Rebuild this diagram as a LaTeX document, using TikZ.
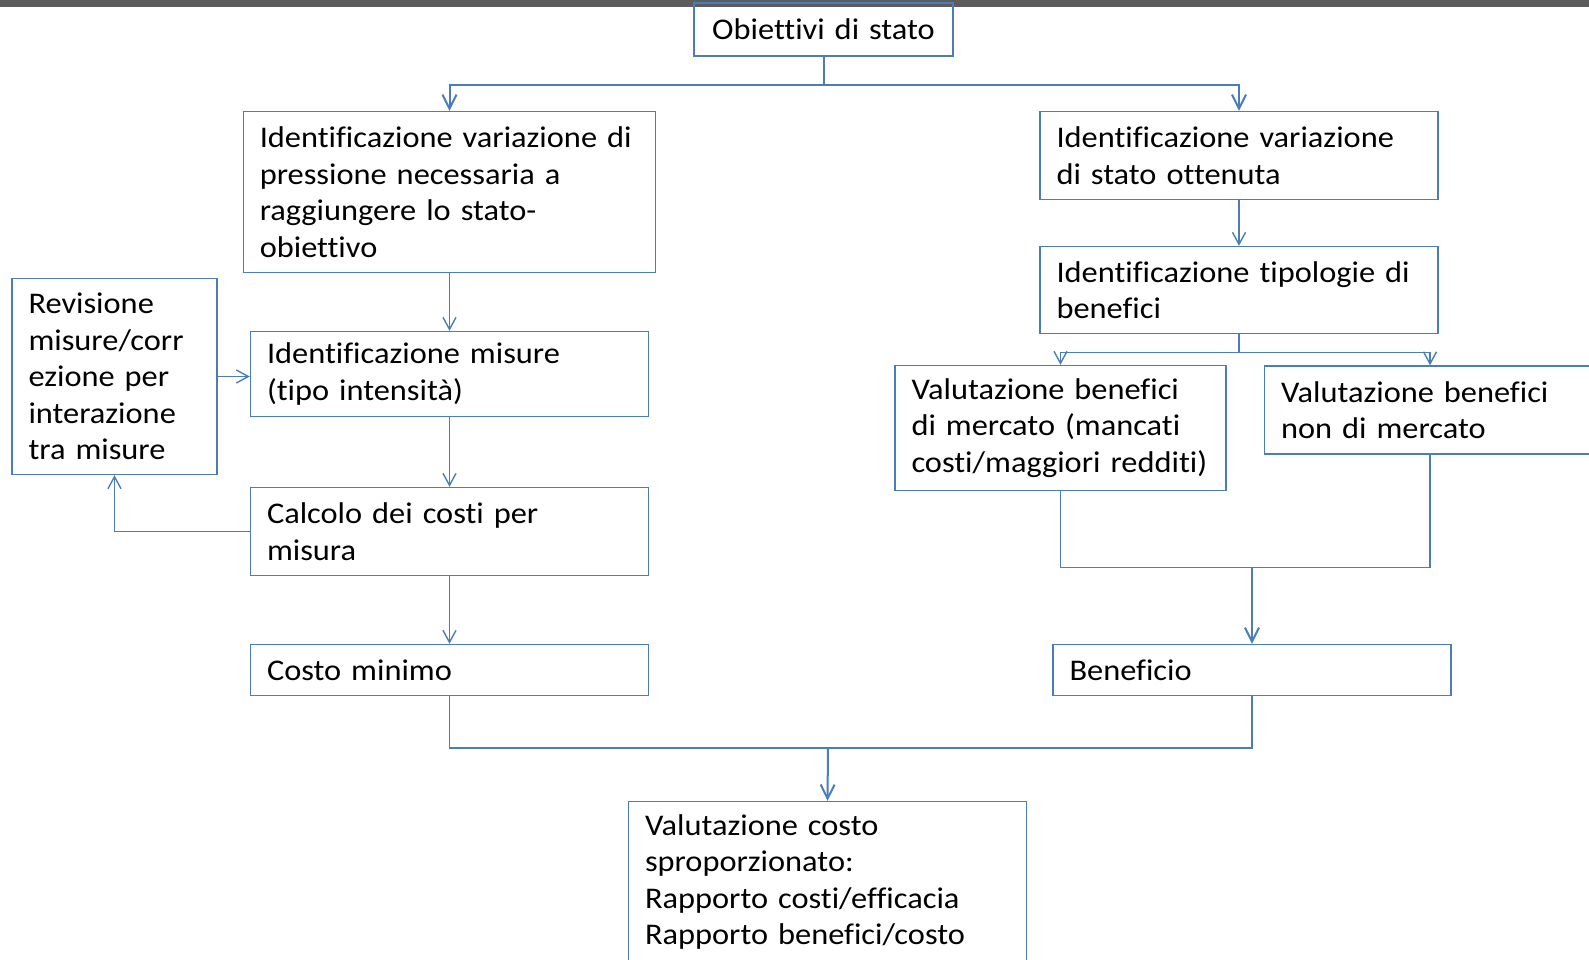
\documentclass[tikz,border=0pt]{standalone}
\usepackage{fontspec}
\setmainfont{Carlito}[FakeStretch=1.08,WordSpace=0.8,Ligatures=NoCommon]
\usepackage{tikz}
\usetikzlibrary{arrows.meta,positioning}
\definecolor{OfficeBlue}{HTML}{4A7EBB}
\definecolor{BarGray}{HTML}{5C5C5C}

\begin{document}
\begin{tikzpicture}[x=1pt, y=-1pt,
       >={Straight Barb[length=12pt,width=13pt]}, OfficeBlue, text=black,
       line width=1.4pt,
       every node/.style={font=\fontsize{30}{36.5}\selectfont},
       flowbox/.style 2 args = {rectangle, draw=OfficeBlue, line width=1.4pt,
                                inner xsep=16.5pt, inner ysep=0pt,
                                text width=#1, minimum height=#2, align=left},
       joinline/.style = {line width=2pt, >={Straight Barb[length=14pt,width=14pt]}}]
	%% Frame and top bar
	\useasboundingbox (0,0) rectangle (1589,960);
	\fill[BarGray] (0,0) rectangle (1589,7);

	%% Top
	\node [flowbox={226pt}{53pt},align=center] (obiettivi) at (823.5,29.5) {Obiettivi di stato};

	%% Cost branch
	\node [flowbox={379.5pt}{161pt}] (pressione) at (449.5,192)
	      {Identificazione variazione di\\pressione necessaria a\\raggiungere lo stato-\\obiettivo};
	\node [flowbox={365pt}{85pt}] (misure) at (449.5,374) {Identificazione misure\\(tipo intensità)};
	\node [flowbox={365pt}{88pt}] (calcolo) at (449.5,531.5) {Calcolo dei costi per\\misura};
	\node [flowbox={365pt}{51pt}] (costominimo) at (449.5,670) {Costo minimo};
	\node [flowbox={172pt}{196pt}] (revisione) at (114.5,376.5)
	      {Revisione\\misure/corr\\ezione per\\interazione\\tra misure};

	%% Benefit branch
	\node [flowbox={365pt}{88pt}] (statoottenuto) at (1239,155.5) {Identificazione variazione\\di stato ottenuta};
	\node [flowbox={365pt}{87pt}] (tipologie) at (1239,290) {Identificazione tipologie di\\benefici};
	\node [flowbox={298pt}{125pt}] (mercato) at (1060.5,428)
	      {Valutazione benefici\\di mercato (mancati\\costi/maggiori redditi)};
	\node [flowbox={298pt}{88pt}] (nonmercato) at (1430,410) {Valutazione benefici\\non di mercato};
	\node [flowbox={365pt}{51pt}] (beneficio) at (1252,670) {Beneficio};

	%% Bottom
	\node [flowbox={365pt}{161pt}] (sproporz) at (827.5,882)
	      {Valutazione costo\\sproporzionato:\\Rapporto costi/efficacia\\Rapporto benefici/costo};

	%% Paths
	\draw[->,joinline] (obiettivi.south) -- ++(0,28) -| (pressione.north);
	\draw[->,joinline] (obiettivi.south) -- ++(0,28) -| (statoottenuto.north);
	\draw[->] (pressione) -- (misure);
	\draw[->] (misure) -- (calcolo);
	\draw[->] (calcolo) -- (costominimo);
	\draw[->] (calcolo.west) -| (revisione.south);
	\draw[->] (revisione.east) -- (revisione.east -| misure.west);
	\draw[->] (statoottenuto) -- (tipologie);
	\draw[->] (tipologie.south) -- ++(0,18) -| (mercato.north);
	\draw[->] (tipologie.south) -- ++(0,18) -| (nonmercato.north);

	\coordinate (benjoin) at (1252,567.5);
	\draw (mercato.south) |- (benjoin) -| (nonmercato.south);
	\draw[->,joinline] (benjoin) -- (beneficio.north);

	\coordinate (costjoin) at (828,748);
	\draw (costominimo.south) |- (costjoin) -| (beneficio.south);
	\draw[->,joinline] (costjoin) -- (sproporz.north);
\end{tikzpicture}
\end{document}
